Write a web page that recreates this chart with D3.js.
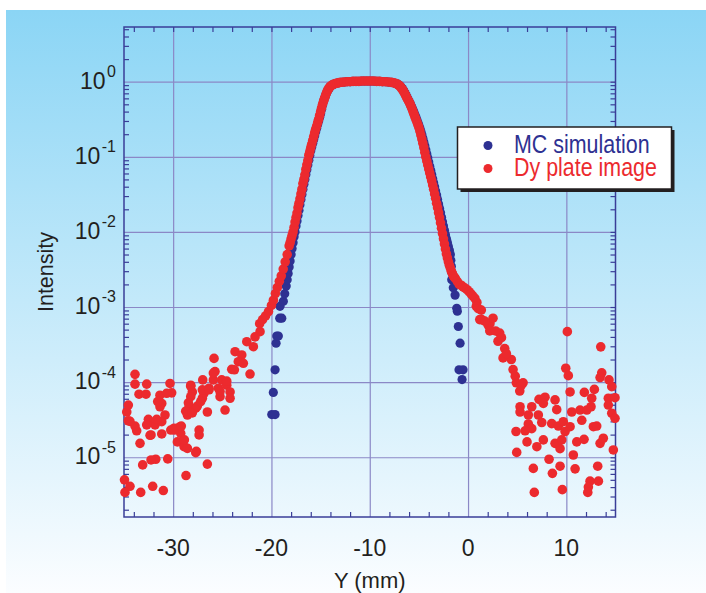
<!DOCTYPE html>
<html>
<head>
<meta charset="utf-8">
<script src="https://cdn.jsdelivr.net/npm/d3@7/dist/d3.min.js"></script>
<style>
    body { margin: 0; background: #ffffff; }
    svg { display: block; }
    text { font-family: 'Liberation Sans', Arial, sans-serif; fill: #231f20; }
</style>
</head>
<body>
<div id="viz"></div>
<script>
// x ticks (mm) and y decades
const xMajor = [-30, -20, -10, 0, 10];
const xMinor = [-34, -32, -28, -26, -24, -22, -18, -16, -14, -12, -8, -6, -4, -2, 2, 4, 6, 8, 12, 14];
const yExponents = [0, -1, -2, -3, -4, -5];
const legendLabels = ['MC simulation', 'Dy plate image'];

// MC simulation: [Y (mm), intensity]
const mcSimulation = [
    [-19.97, 3.7e-5], [-19.63, 3.7e-5], [-19.81, 7.3e-5], [-19.63, 1.46e-4], [-19.53, 3.3e-4],
    [-19.46, 4.1e-4], [-19.3, 4.1e-4], [-19.16, 7.1e-4], [-18.95, 7.1e-4], [-19.13, 1.02e-3],
    [-18.79, 1.19e-3], [-18.65, 1.5e-3], [-18.5, 1.9e-3], [-18.4, 2.3e-3], [-18.3, 2.8e-3],
    [-18.2, 3.4e-3], [-18.1, 4.1e-3], [-18.0, 5.0e-3], [-17.9, 6.0e-3], [-17.8, 7.2e-3],
    [-17.7, 8.6e-3], [-17.6, 1.0e-2], [-17.5, 1.2e-2], [-17.4, 1.4e-2], [-17.3, 1.65e-2],
    [-17.2, 1.95e-2], [-17.1, 2.3e-2], [-17.0, 2.7e-2], [-16.9, 3.15e-2], [-16.8, 3.7e-2],
    [-16.7, 4.3e-2], [-16.6, 5.0e-2], [-16.5, 5.8e-2], [-16.4, 6.7e-2], [-16.3, 7.8e-2],
    [-16.2, 0.09], [-16.1, 0.104], [-16.0, 0.12], [-15.9, 0.135], [-15.8, 0.152],
    [-15.7, 0.17], [-15.6, 0.19], [-15.5, 0.215], [-15.4, 0.24], [-15.3, 0.27],
    [-15.2, 0.3], [-15.1, 0.335], [-15.0, 0.375], [-14.9, 0.43], [-14.8, 0.49],
    [-14.7, 0.55], [-14.6, 0.6], [-14.5, 0.65], [-14.4, 0.7], [-14.3, 0.75],
    [-14.2, 0.79], [-14.1, 0.83], [-14.0, 0.86], [-13.85, 0.9], [-13.7, 0.92],
    [-13.5, 0.945], [-13.2, 0.965], [-12.9, 0.98], [-12.6, 0.99], [-12.3, 1.0],
    [-12.0, 1.0], [-11.7, 1.01], [-11.4, 1.01], [-11.1, 1.01], [-10.8, 1.02],
    [-10.5, 1.02], [-10.2, 1.02], [-9.9, 1.02], [-9.6, 1.02], [-9.3, 1.01],
    [-9.0, 1.01], [-8.7, 1.0], [-8.4, 1.0], [-8.1, 0.99], [-7.8, 0.98],
    [-7.5, 0.96], [-7.2, 0.935], [-7.0, 0.9], [-6.9, 0.875], [-6.8, 0.845],
    [-6.7, 0.81], [-6.6, 0.775], [-6.5, 0.735], [-6.4, 0.695], [-6.3, 0.655],
    [-6.2, 0.615], [-6.1, 0.58], [-6.0, 0.545], [-5.9, 0.515], [-5.8, 0.48],
    [-5.7, 0.45], [-5.6, 0.42], [-5.5, 0.39], [-5.4, 0.36], [-5.3, 0.335],
    [-5.2, 0.31], [-5.1, 0.285], [-5.0, 0.262], [-4.9, 0.24], [-4.8, 0.218],
    [-4.7, 0.196], [-4.6, 0.176], [-4.5, 0.157], [-4.4, 0.14], [-4.3, 0.124],
    [-4.2, 0.11], [-4.1, 0.097], [-4.0, 0.085], [-3.9, 0.075], [-3.8, 0.066],
    [-3.7, 0.058], [-3.6, 0.051], [-3.5, 0.045], [-3.4, 0.04], [-3.3, 0.035],
    [-3.2, 0.031], [-3.1, 0.027], [-3.0, 0.0235], [-2.9, 0.0205], [-2.8, 0.018],
    [-2.7, 0.0157], [-2.6, 0.0137], [-2.5, 0.012], [-2.4, 0.0105], [-2.3, 0.0092],
    [-2.2, 0.0081], [-2.1, 0.0072], [-2.0, 0.0064], [-1.9, 0.0057], [-1.8, 0.005],
    [-1.75, 0.0042], [-1.7, 0.0035], [-1.66, 0.0029], [-1.66, 0.0023], [-1.5, 0.0018],
    [-1.32, 0.00144], [-1.15, 0.00096], [-1.09, 0.00088], [-0.99, 0.00055], [-0.81, 0.00033],
    [-0.92, 0.000146], [-0.51, 0.000146], [-0.61, 0.000108]
];

// Dy plate image, central peak
const dyCore = [
    [-21.2, 6.0e-4], [-20.9, 6.8e-4], [-20.6, 7.6e-4], [-20.3, 8.7e-4], [-20.0, 1.05e-3],
    [-19.8, 1.23e-3], [-19.6, 1.51e-3], [-19.4, 1.82e-3], [-19.2, 2.2e-3], [-19.0, 2.6e-3],
    [-18.8, 3.2e-3], [-18.6, 4.0e-3], [-18.4, 5.0e-3], [-18.2, 6.5e-3], [-18.1, 7.2e-3],
    [-18.0, 8.1e-3], [-17.9, 9.0e-3], [-17.8, 1.0e-2], [-17.7, 1.15e-2], [-17.6, 1.35e-2],
    [-17.5, 1.55e-2], [-17.4, 1.78e-2], [-17.3, 2.1e-2], [-17.2, 2.4e-2], [-17.1, 2.75e-2],
    [-17.0, 3.2e-2], [-16.9, 3.7e-2], [-16.8, 4.4e-2], [-16.7, 5.0e-2], [-16.6, 5.75e-2],
    [-16.5, 6.8e-2], [-16.4, 7.8e-2], [-16.3, 8.9e-2], [-16.2, 0.105], [-16.1, 0.117],
    [-16.0, 0.132], [-15.9, 0.148], [-15.8, 0.166], [-15.7, 0.186], [-15.6, 0.209],
    [-15.5, 0.234], [-15.4, 0.257], [-15.3, 0.285], [-15.2, 0.316], [-15.1, 0.355],
    [-15.0, 0.398], [-14.9, 0.447], [-14.8, 0.5], [-14.7, 0.55], [-14.6, 0.6],
    [-14.5, 0.653], [-14.4, 0.708], [-14.3, 0.76], [-14.2, 0.8], [-14.1, 0.84],
    [-14.0, 0.87], [-13.85, 0.9], [-13.7, 0.92], [-13.5, 0.945], [-13.3, 0.96],
    [-13.1, 0.973], [-12.9, 0.982], [-12.6, 0.99], [-12.3, 1.0], [-12.0, 1.0],
    [-11.7, 1.01], [-11.4, 1.01], [-11.1, 1.01], [-10.8, 1.02], [-10.5, 1.02],
    [-10.2, 1.02], [-9.9, 1.02], [-9.6, 1.02], [-9.3, 1.01], [-9.0, 1.01],
    [-8.7, 1.0], [-8.4, 1.0], [-8.1, 0.99], [-7.8, 0.98], [-7.6, 0.97],
    [-7.4, 0.95], [-7.2, 0.93], [-7.1, 0.91], [-7.0, 0.89], [-6.9, 0.86],
    [-6.8, 0.83], [-6.7, 0.795], [-6.6, 0.76], [-6.5, 0.72], [-6.4, 0.68],
    [-6.3, 0.64], [-6.2, 0.6], [-6.1, 0.57], [-6.0, 0.54], [-5.9, 0.505],
    [-5.8, 0.47], [-5.7, 0.435], [-5.6, 0.4], [-5.5, 0.37], [-5.4, 0.34],
    [-5.3, 0.315], [-5.2, 0.29], [-5.1, 0.267], [-5.0, 0.245], [-4.9, 0.22],
    [-4.8, 0.195], [-4.7, 0.172], [-4.6, 0.152], [-4.5, 0.133], [-4.4, 0.115],
    [-4.3, 0.1], [-4.2, 0.088], [-4.1, 0.078], [-4.0, 0.069], [-3.9, 0.061],
    [-3.8, 0.054], [-3.7, 0.048], [-3.6, 0.042], [-3.5, 0.037], [-3.4, 0.032],
    [-3.3, 0.028], [-3.2, 0.024], [-3.1, 0.021], [-3.0, 0.018], [-2.9, 0.0155],
    [-2.8, 0.0132], [-2.7, 0.0112], [-2.6, 0.0095], [-2.5, 0.0081], [-2.4, 0.0069],
    [-2.3, 0.0059], [-2.2, 0.0051], [-2.1, 0.0045], [-2.0, 0.004], [-1.9, 0.0036],
    [-1.8, 0.0033], [-1.7, 0.003], [-1.6, 0.0028], [-1.5, 0.0026], [-1.4, 0.0025],
    [-1.3, 0.0024], [-1.1, 0.0022], [-0.9, 0.002], [-0.7, 0.00195], [-0.5, 0.00185],
    [-0.3, 0.00178], [-0.1, 0.0017], [0.1, 0.0016], [0.3, 0.0015], [0.5, 0.0014],
    [0.7, 0.0013], [0.9, 0.00115]
];

// Dy plate image, left wing
const dyLeftTail = [
    [-21.16, 4.7e-4], [-21.67, 4.0e-4], [-22.51, 3.45e-4], [-21.84, 2.96e-4], [-23.7, 2.54e-4],
    [-23.02, 2.3e-4], [-23.37, 1.87e-4], [-22.86, 1.78e-4], [-24.04, 1.48e-4], [-22.18, 1.28e-4],
    [-25.84, 2.07e-4], [-25.74, 1.38e-4], [-25.06, 1.07e-4], [-25.91, 1.07e-4], [-26.99, 1.07e-4],
    [-24.55, 9.1e-5], [-25.4, 8.3e-5], [-24.21, 7.4e-5], [-25.23, 6.4e-5], [-24.21, 6.1e-5],
    [-24.72, 4.25e-5], [-26.35, 8.3e-5], [-26.86, 7.1e-5], [-27.03, 6.1e-5], [-28.21, 9.1e-5],
    [-28.05, 7.4e-5], [-28.21, 6.4e-5], [-28.38, 4.7e-5], [-27.7, 4.5e-5], [-26.52, 4.0e-5],
    [-28.55, 3.65e-5], [-27.36, 2.3e-5], [-27.36, 1.98e-5], [-29.3, 2.55e-5], [-29.91, 2.43e-5],
    [-29.23, 2.08e-5], [-30.24, 2.3e-5], [-29.57, 1.6e-5], [-28.89, 1.38e-5], [-28.55, 1.31e-5],
    [-27.7, 1.15e-5], [-26.52, 8.1e-6], [-28.69, 5.7e-6], [-30.55, 9.5e-6], [-31.77, 9.4e-6],
    [-32.25, 9.2e-6], [-33.1, 7.9e-6], [-31.16, 2.04e-5], [-32.25, 1.98e-5], [-33.37, 1.53e-5],
    [-33.71, 2.25e-5], [-33.88, 2.6e-5], [-34.56, 3.06e-5], [-34.72, 4.0e-5], [-34.56, 4.95e-5],
    [-33.88, 1.27e-4], [-33.88, 9.4e-5], [-32.69, 9.4e-5], [-33.47, 6.9e-5], [-32.76, 6.9e-5],
    [-30.32, 9.6e-5], [-30.15, 7.2e-5], [-31.34, 6.7e-5], [-30.66, 7.1e-5], [-31.16, 5.2e-5],
    [-31.34, 4.7e-5], [-30.83, 3.65e-5], [-32.52, 3.2e-5], [-31.84, 2.7e-5], [-32.69, 2.7e-5],
    [-31.16, 2.97e-5], [-34.95, 5.0e-6], [-34.39, 4.1e-6], [-34.9, 3.4e-6], [-33.3, 3.4e-6],
    [-32.08, 4.1e-6], [-31.0, 3.6e-6], [-28.72, 4.1e-5], [-28.05, 3.9e-5], [-27.54, 4.8e-5],
    [-27.2, 5.5e-5], [-28.86, 1.7e-5], [-29.87, 2.3e-5], [-29.17, 2.6e-5], [-27.64, 1.2e-5],
    [-25.91, 1.32e-4], [-24.55, 1.03e-4], [-25.23, 7.5e-5], [-28.21, 8.8e-5], [-27.03, 7.9e-5],
    [-26.35, 7.9e-5], [-23.77, 1.46e-4], [-28.45, 5.3e-5], [-34.39, 3.0e-5], [-31.57, 5.5e-5],
    [-32.35, 1.96e-5], [-31.67, 3.2e-5]
];

// Dy plate image, right wing
const dyRightTail = [
    [0.84, 1.02e-3], [1.04, 9.5e-4], [1.35, 9.1e-4], [1.19, 6.8e-4], [1.39, 6.8e-4],
    [2.03, 5.8e-4], [2.23, 6.0e-4], [2.54, 7.1e-4], [2.21, 4.8e-4], [3.22, 4.5e-4],
    [3.05, 3.5e-4], [3.73, 2.8e-4], [3.56, 2.1e-4], [4.4, 2.0e-4], [4.58, 1.47e-4],
    [4.91, 9.8e-5], [5.6, 9.8e-5], [5.26, 7.6e-5], [1.7, 6.5e-4], [2.8, 4.8e-4],
    [3.4, 3.9e-4], [3.9, 2.4e-4], [4.8, 1.2e-4], [5.4, 9.0e-5],
    [10.1, 4.7e-4], [13.5, 2.95e-4], [9.94, 1.53e-4], [10.2, 1.22e-4], [13.6, 1.33e-4],
    [13.43, 1.15e-4], [14.34, 1.07e-4], [14.62, 8.7e-5], [10.38, 7.4e-5], [11.83, 7.3e-5],
    [12.85, 8.0e-5], [12.58, 6.1e-5], [14.27, 6.1e-5], [14.95, 6.2e-5], [7.22, 5.9e-5],
    [7.83, 6.3e-5], [7.66, 5.2e-5], [8.85, 5.8e-5], [9.02, 4.3e-5], [5.29, 4.7e-5],
    [6.48, 4.7e-5], [5.29, 4.0e-5], [6.13, 3.65e-5], [7.15, 3.65e-5], [10.55, 4.0e-5],
    [11.39, 4.25e-5], [12.08, 4.25e-5], [12.51, 4.7e-5], [14.27, 4.95e-5], [14.62, 3.85e-5],
    [14.95, 3.3e-5], [11.57, 3.1e-5], [7.5, 2.9e-5], [8.51, 2.8e-5], [9.19, 2.6e-5],
    [9.69, 2.97e-5], [9.87, 2.2e-5], [10.38, 2.55e-5], [6.13, 2.77e-5], [6.48, 2.4e-5],
    [5.8, 2.25e-5], [4.88, 2.2e-5], [12.75, 2.55e-5], [13.09, 2.6e-5], [6.0, 1.6e-5],
    [7.0, 1.38e-5], [7.66, 1.7e-5], [8.85, 1.53e-5], [9.36, 1.3e-5], [9.53, 1.7e-5],
    [11.06, 1.6e-5], [11.8, 1.73e-5], [13.43, 1.53e-5], [13.76, 1.79e-5], [4.95, 1.16e-5],
    [14.78, 1.25e-5], [10.71, 1.07e-5], [8.24, 9.4e-6], [6.64, 7.1e-6], [9.36, 7.6e-6],
    [10.89, 7.0e-6], [8.58, 6.1e-6], [13.19, 7.6e-6], [13.26, 4.8e-6], [12.41, 4.8e-6],
    [12.24, 4.0e-6], [12.18, 3.4e-6], [9.59, 3.7e-6], [6.74, 3.4e-6]
];

const dyPlateImage = dyLeftTail.concat(dyCore, dyRightTail);

const blue = '#2e3192';
const red = '#ec2a2e';
const gridColor = '#8b88c6';
const frameColor = '#3a3e98';

function buildChart(containerId) {
    const width = 706;
    const height = 593;

    const plot = { left: 124, right: 615.5, top: 27, bottom: 517 };

    const svg = d3.select(containerId)
                  .append('svg')
                  .attr('width', width)
                  .attr('height', height);

    const grad = svg.append('defs')
                    .append('linearGradient')
                    .attr('id', 'bg')
                    .attr('x1', 0).attr('y1', 0)
                    .attr('x2', 0).attr('y2', 1);
    grad.append('stop').attr('offset', '0%').attr('stop-color', '#8bd5f5');
    grad.append('stop').attr('offset', '100%').attr('stop-color', '#fbfdff');

    svg.append('rect')
       .attr('x', 6)
       .attr('y', 10)
       .attr('width', width - 6)
       .attr('height', height - 10)
       .attr('fill', 'url(#bg)');

    const x = d3.scaleLinear()
                .domain([-35, 15])
                .range([plot.left, plot.right]);

    const y = d3.scaleLog()
                .domain([1.6e-6, 5.35])
                .range([plot.bottom, plot.top]);

    const innerWidth = plot.right - plot.left;
    const innerHeight = plot.bottom - plot.top;

    const yMajor = yExponents.map(e => Math.pow(10, e));
    const yMinor = [];
    for (let e = -6; e <= 0; e++) {
        for (let k = 2; k <= 9; k++) {
            const v = k * Math.pow(10, e);
            if (v > 1.6e-6 && v < 5.35) yMinor.push(v);
        }
    }

    // gridlines
    svg.append('g')
       .attr('class', 'x-grid')
       .attr('transform', 'translate(0,' + plot.bottom + ')')
       .call(d3.axisBottom(x).tickValues(xMajor).tickSize(-innerHeight).tickFormat(''))
       .call(g => g.select('.domain').remove())
       .call(g => g.selectAll('line').attr('stroke', gridColor).attr('stroke-width', 1.2));

    svg.append('g')
       .attr('class', 'y-grid')
       .attr('transform', 'translate(' + plot.left + ',0)')
       .call(d3.axisLeft(y).tickValues(yMajor).tickSize(-innerWidth).tickFormat(''))
       .call(g => g.select('.domain').remove())
       .call(g => g.selectAll('line').attr('stroke', gridColor).attr('stroke-width', 1.2));

    // inward minor ticks on all four sides
    const tickAxes = [
        { axis: d3.axisBottom(x).tickValues(xMinor), t: 'translate(0,' + plot.bottom + ')' },
        { axis: d3.axisTop(x).tickValues(xMinor.concat(xMajor)), t: 'translate(0,' + plot.top + ')' },
        { axis: d3.axisLeft(y).tickValues(yMinor), t: 'translate(' + plot.left + ',0)' },
        { axis: d3.axisRight(y).tickValues(yMinor.concat(yMajor)), t: 'translate(' + plot.right + ',0)' }
    ];
    tickAxes.forEach(a => {
        svg.append('g')
           .attr('transform', a.t)
           .call(a.axis.tickSize(-5).tickFormat(''))
           .call(g => g.select('.domain').remove())
           .call(g => g.selectAll('line').attr('stroke', frameColor).attr('stroke-width', 1.2));
    });

    svg.append('rect')
       .attr('x', plot.left)
       .attr('y', plot.top)
       .attr('width', innerWidth)
       .attr('height', innerHeight)
       .attr('fill', 'none')
       .attr('stroke', frameColor)
       .attr('stroke-width', 1.5);

    // tick labels
    svg.append('g')
       .selectAll('text')
       .data(xMajor)
       .enter()
       .append('text')
       .attr('x', d => x(d))
       .attr('y', 556)
       .attr('text-anchor', 'middle')
       .style('font-size', '23px')
       .text(d => String(d));

    const ylab = svg.append('g')
                    .selectAll('text')
                    .data(yExponents)
                    .enter()
                    .append('text')
                    .attr('x', 116)
                    .attr('y', d => y(Math.pow(10, d)) + 7)
                    .attr('text-anchor', 'end')
                    .style('font-size', '23px');
    ylab.append('tspan').text('10');
    ylab.append('tspan')
        .attr('dx', 1.5)
        .attr('dy', -11.6)
        .style('font-size', '16px')
        .text(d => String(d));

    // axis titles
    svg.append('text')
       .attr('x', (plot.left + plot.right) / 2)
       .attr('y', 588)
       .attr('text-anchor', 'middle')
       .style('font-size', '22px')
       .text('Y (mm)');

    svg.append('text')
       .attr('transform', 'translate(53,' + (plot.top + plot.bottom) / 2 + ') rotate(-90)')
       .attr('text-anchor', 'middle')
       .style('font-size', '21.5px')
       .text('Intensity');

    // points
    svg.append('g')
       .selectAll('circle')
       .data(mcSimulation)
       .enter()
       .append('circle')
       .attr('cx', d => x(d[0]))
       .attr('cy', d => y(d[1]))
       .attr('r', 4.6)
       .attr('fill', blue);

    svg.append('g')
       .selectAll('circle')
       .data(dyPlateImage)
       .enter()
       .append('circle')
       .attr('cx', d => x(d[0]))
       .attr('cy', d => y(d[1]))
       .attr('r', 4.8)
       .attr('fill', red);

    // legend
    const lg = svg.append('g').attr('class', 'legend');
    lg.append('rect')
      .attr('x', 460.5)
      .attr('y', 130)
      .attr('width', 214)
      .attr('height', 62)
      .attr('fill', '#231f20');
    lg.append('rect')
      .attr('x', 457.5)
      .attr('y', 127)
      .attr('width', 214)
      .attr('height', 62)
      .attr('fill', '#ffffff')
      .attr('stroke', '#231f20')
      .attr('stroke-width', 1.5);

    const colors = [blue, red];
    const rows = lg.selectAll('.row')
                   .data(legendLabels)
                   .enter()
                   .append('g')
                   .attr('class', 'row')
                   .attr('transform', (d, i) => 'translate(0,' + (i * 23) + ')');
    rows.append('circle')
        .attr('cx', 488)
        .attr('cy', 145.5)
        .attr('r', 4.5)
        .attr('fill', (d, i) => colors[i]);
    rows.append('text')
        .attr('x', 514)
        .attr('y', 153.3)
        .style('font-size', '25.5px')
        .style('fill', (d, i) => colors[i])
        .text(d => d)
        .each(function() {
            // condensed face is not installed: squeeze the regular one
            const w = this.getComputedTextLength();
            d3.select(this)
              .attr('textLength', w * 0.84)
              .attr('lengthAdjust', 'spacingAndGlyphs');
        });
}

buildChart('#viz');
</script>
</body>
</html>
